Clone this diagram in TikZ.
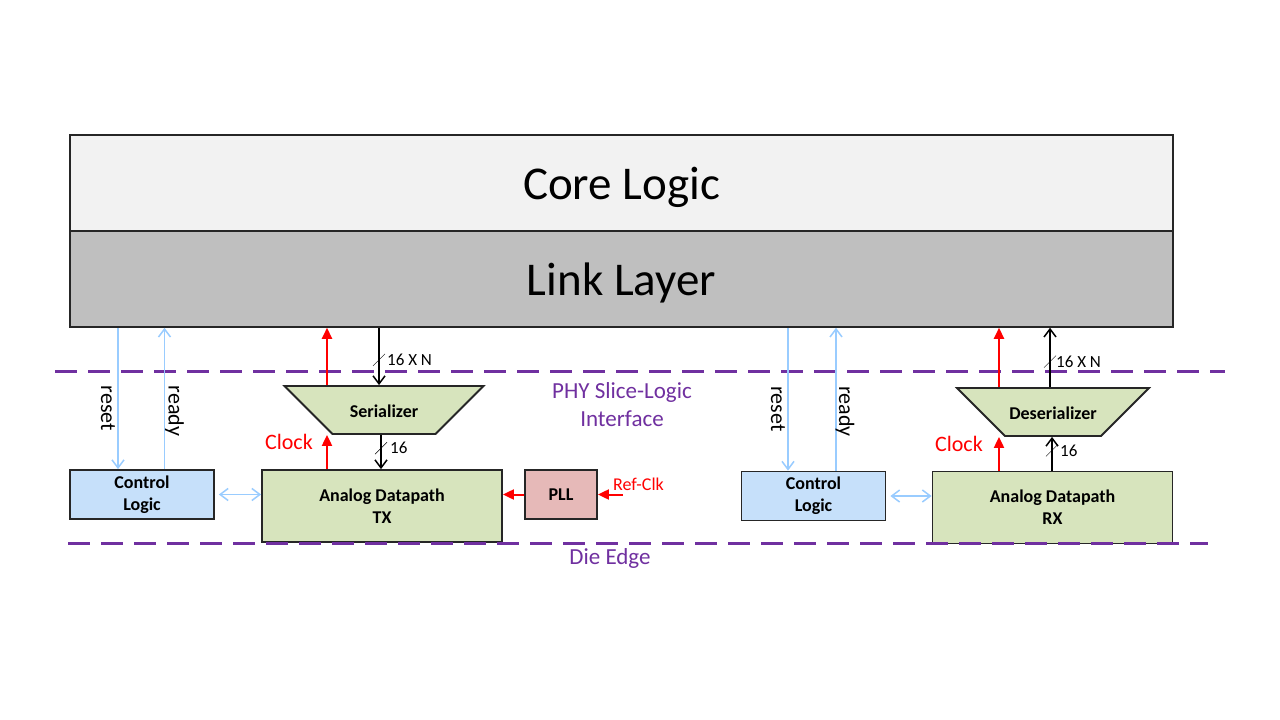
\documentclass[tikz,border=0pt]{standalone}
\usepackage{fontspec}
\setmainfont{Carlito}
\usetikzlibrary{shapes.geometric, arrows.meta, positioning, calc}
\definecolor{phypurple}{RGB}{112, 48, 160}
\definecolor{coregray}{RGB}{242, 242, 242}
\definecolor{linkgray}{RGB}{191, 191, 191}
\definecolor{ctrlblue}{RGB}{198, 224, 250}
\definecolor{sigblue}{RGB}{153, 204, 255}
\definecolor{pathgreen}{RGB}{215, 228, 189}
\definecolor{pllpink}{RGB}{230, 185, 184}
\definecolor{boxline}{RGB}{38, 38, 38}

\begin{document}
\begin{tikzpicture}[
    x=1pt, y=-1pt,
    layer/.style={draw=boxline, line width=1.5pt, minimum width=1103pt, minimum height=96pt, inner sep=0pt, text depth=0pt, font=\fontsize{47}{50}\selectfont},
    block/.style={draw=boxline, line width=1.8pt, inner sep=0pt, align=center, font=\fontsize{18}{22}\selectfont\bfseries},
    ctrl/.style={block, fill=ctrlblue, minimum width=144pt, minimum height=49pt},
    datapath/.style={block, fill=pathgreen, minimum width=240pt, minimum height=72pt},
    pll/.style={block, fill=pllpink, minimum width=72pt, minimum height=49pt},
    serdes/.style={block, fill=pathgreen, trapezium, shape border rotate=180, trapezium angle=45, trapezium stretches body, text height=31pt, text depth=17pt},
    boundary/.style={phypurple, line width=3pt, dash pattern=on 22pt off 11pt},
    zonelbl/.style={phypurple, align=center, font=\fontsize{23}{28}\selectfont},
    bus/.style={line width=1.5pt, -{Straight Barb[length=8pt, width=12pt, line width=1.5pt]}},
    clk/.style={red, line width=2pt, -{Triangle[length=11pt, width=10pt]}},
    sig/.style={sigblue, line width=1.5pt, -{Straight Barb[length=8pt, width=12pt, line width=1.5pt]}},
    sigpair/.style={sigblue, line width=1.5pt, {Straight Barb[length=8pt, width=12pt, line width=1.5pt]}-{Straight Barb[length=8pt, width=12pt, line width=1.5pt]}},
    sidelbl/.style={rotate=-90, anchor=west, inner sep=0pt, font=\fontsize{22}{26}\selectfont},
    clklbl/.style={red, inner sep=0pt, font=\fontsize{22}{26}\selectfont},
    widthlbl/.style={anchor=west, inner sep=0pt, font=\fontsize{17}{20}\selectfont}
  ]
  \useasboundingbox[fill=white] (0,0) rectangle (1280,720);

  % upper layers
  \node[layer, fill=coregray] (core) at (621.5,183) {Core Logic};
  \node[layer, fill=linkgray] (link) at (621.5,279) {Link Layer};

  % TX slice
  \node[ctrl] (ctrltx) at (142,494.5) {Control\\Logic};
  \node[datapath] (tx) at (382,506) {Analog Datapath\\TX};
  \node[pll] (pll) at (561,494.5) {PLL};
  \node[serdes, minimum width=199pt] (ser) at (384,410) {Serializer};

  % RX slice
  \node[ctrl] (ctrlrx) at (813.5,496) {Control\\Logic};
  \node[datapath] (rx) at (1052.5,507.5) {Analog Datapath\\RX};
  \node[serdes, minimum width=192pt] (deser) at (1053,412) {Deserializer};

  % interface and die edge
  \draw[boundary] (55,371) -- (1225,371);
  \draw[boundary] (68,543) -- (1208,543);
  \node[zonelbl] (ifc) at (622,405) {PHY Slice-Logic\\Interface};
  \node[zonelbl] (die) at (610,558) {Die Edge};

  % reset / ready
  \draw[sig] ([xshift=-24pt]ctrltx.north |- link.south) -- ([xshift=-24pt]ctrltx.north) coordinate[pos=0.41] (rsttx);
  \draw[sig] ([xshift=22.5pt]ctrltx.north) -- ([xshift=22.5pt]ctrltx.north |- link.south) coordinate[pos=0.59] (rdytx);
  \node[sidelbl] at ([xshift=-10pt]rsttx) {reset};
  \node[sidelbl] at ([xshift=10pt]rdytx) {ready};
  \draw[sig] ([xshift=-25.5pt]ctrlrx.north |- link.south) -- ([xshift=-25.5pt]ctrlrx.north) coordinate[pos=0.41] (rstrx);
  \draw[sig] ([xshift=22.5pt]ctrlrx.north) -- ([xshift=22.5pt]ctrlrx.north |- link.south) coordinate[pos=0.59] (rdyrx);
  \node[sidelbl] at ([xshift=-10pt]rstrx) {reset};
  \node[sidelbl] at ([xshift=9pt]rdyrx) {ready};
  \draw[sigpair, shorten <=4pt] (ctrltx.east) -- (ctrltx.east -| tx.west);
  \draw[sigpair, shorten <=4pt] (ctrlrx.east) -- (ctrlrx.east -| rx.west);

  % TX data and clock
  \draw[bus] ([xshift=-5pt]ser.north |- link.south) -- ([xshift=-5pt]ser.north) coordinate[pos=0.56] (bustx);
  \draw (bustx) ++(-6,6) -- ++(12,-12);
  \node[widthlbl] at ([xshift=8pt]bustx) {16 X N};
  \draw[bus] ([xshift=-3pt]ser.south) -- ([xshift=-3pt]ser.south |- tx.north) coordinate[pos=0.39] (sertx);
  \draw (sertx) ++(-6,6) -- ++(12,-12);
  \node[widthlbl] at ([xshift=9pt]sertx) {16};
  \draw[clk] ([xshift=-57pt]ser.north) -- ([xshift=-57pt]ser.north |- link.south);
  \draw[clk] ([xshift=-55pt]tx.north) -- ([xshift=-55pt]tx.north |- ser.south) coordinate[pos=0.78] (clktx);
  \node[clklbl, anchor=east] at ([xshift=-14pt]clktx) {Clock};
  \draw[clk] (pll.west) -- (pll.west -| tx.east);
  \coordinate (refin) at (623,494.5);
  \draw[clk] (refin) -- (pll.east);
  \node[red, anchor=west, inner sep=0pt, font=\fontsize{18}{20}\selectfont] (refclk) at (613,484) {Ref-Clk};

  % RX data and clock
  \draw[bus] ([xshift=-3pt]deser.north) -- ([xshift=-3pt]deser.north |- link.south) coordinate[pos=0.43] (busrx);
  \draw (busrx) ++(-6,6) -- ++(12,-12);
  \node[widthlbl] at ([xshift=6pt]busrx) {16 X N};
  \draw[bus] ([xshift=-0.5pt]rx.north) -- ([xshift=-0.5pt]rx.north |- deser.south) coordinate[pos=0.6] (rxser);
  \draw (rxser) ++(-6,6) -- ++(12,-12);
  \node[widthlbl] at ([xshift=8pt]rxser) {16};
  \draw[clk] ([xshift=-54pt]deser.north) -- ([xshift=-54pt]deser.north |- link.south);
  \draw[clk] ([xshift=-53.5pt]rx.north) -- ([xshift=-53.5pt]rx.north |- deser.south) coordinate[pos=0.78] (clkrx);
  \node[clklbl, anchor=east] at ([xshift=-16pt]clkrx) {Clock};
\end{tikzpicture}
\end{document}
